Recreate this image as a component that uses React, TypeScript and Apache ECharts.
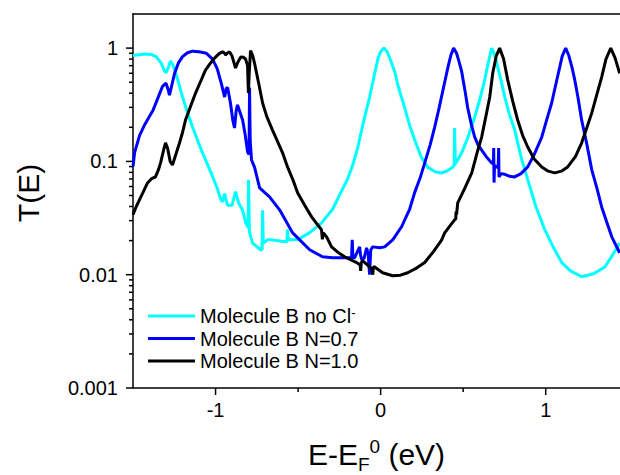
import React, { useEffect, useRef } from 'react';
import * as echarts from 'echarts';

// ---- data (x = E - EF0 in eV, T(E)) ----
const cyanData: number[][] = [
  [-1.5, 0.86], [-1.48, 0.87], [-1.45, 0.88], [-1.42, 0.885], [-1.39, 0.88], [-1.36, 0.84],
  [-1.33, 0.74], [-1.31, 0.63], [-1.3, 0.606], [-1.285, 0.68], [-1.273, 0.77], [-1.26, 0.72],
  [-1.24, 0.6], [-1.22, 0.47], [-1.2, 0.37], [-1.17, 0.27], [-1.139, 0.2], [-1.11, 0.155],
  [-1.079, 0.119], [-1.05, 0.095], [-1.018, 0.0735], [-0.99, 0.058], [-0.968, 0.046],
  [-0.958, 0.044], [-0.945, 0.052], [-0.935, 0.045], [-0.927, 0.041], [-0.9, 0.041],
  [-0.879, 0.054], [-0.86, 0.043], [-0.836, 0.037], [-0.818, 0.029], [-0.803, 0.026],
  [-0.8, 0.069], [-0.795, 0.024], [-0.776, 0.019], [-0.727, 0.0166], [-0.718, 0.0166],
  [-0.715, 0.037], [-0.711, 0.019], [-0.68, 0.0205], [-0.6, 0.0197], [-0.568, 0.0195],
  [-0.564, 0.025], [-0.56, 0.0203], [-0.5, 0.0205], [-0.43, 0.0235], [-0.358, 0.0287],
  [-0.29, 0.038], [-0.236, 0.055], [-0.2, 0.07], [-0.17, 0.092], [-0.14, 0.13],
  [-0.115, 0.189], [-0.09, 0.27], [-0.067, 0.37], [-0.05, 0.48], [-0.036, 0.6], [-0.015, 0.82],
  [0.0, 0.93], [0.02, 1.0], [0.04, 0.93], [0.06, 0.78], [0.085, 0.62], [0.11, 0.44],
  [0.145, 0.3], [0.175, 0.21], [0.206, 0.155], [0.245, 0.11], [0.285, 0.089], [0.33, 0.081],
  [0.37, 0.079], [0.4, 0.082], [0.436, 0.089], [0.446, 0.092], [0.448, 0.197], [0.452, 0.095],
  [0.491, 0.119], [0.53, 0.165], [0.57, 0.247], [0.6, 0.35], [0.63, 0.52], [0.65, 0.72],
  [0.662, 0.86], [0.673, 1.0], [0.69, 0.88], [0.705, 0.72], [0.725, 0.55], [0.752, 0.37],
  [0.78, 0.26], [0.812, 0.19], [0.85, 0.11], [0.891, 0.069], [0.94, 0.04], [0.994, 0.025],
  [1.05, 0.017], [1.097, 0.0128], [1.15, 0.0108], [1.218, 0.0096], [1.29, 0.0102],
  [1.358, 0.0117], [1.4, 0.0145], [1.448, 0.019],
];

const blueData: number[][] = [
  [-1.5, 0.09], [-1.49, 0.12], [-1.46, 0.17], [-1.43, 0.21], [-1.4, 0.25], [-1.38, 0.28],
  [-1.35, 0.36], [-1.321, 0.46], [-1.3, 0.49], [-1.285, 0.42], [-1.279, 0.385], [-1.265, 0.47],
  [-1.248, 0.6], [-1.225, 0.74], [-1.2, 0.84], [-1.17, 0.91], [-1.139, 0.94], [-1.1, 0.93],
  [-1.055, 0.9], [-1.018, 0.8], [-0.99, 0.66], [-0.964, 0.48], [-0.945, 0.37], [-0.935, 0.44],
  [-0.927, 0.45], [-0.91, 0.33], [-0.895, 0.23], [-0.885, 0.197], [-0.875, 0.28], [-0.867, 0.315],
  [-0.855, 0.28], [-0.836, 0.232], [-0.82, 0.17], [-0.806, 0.121], [-0.797, 0.115], [-0.794, 0.45],
  [-0.79, 0.15], [-0.782, 0.103], [-0.764, 0.089], [-0.733, 0.0584], [-0.673, 0.0487],
  [-0.612, 0.0374], [-0.533, 0.0234], [-0.43, 0.0166], [-0.352, 0.0144], [-0.291, 0.0141],
  [-0.176, 0.0141], [-0.172, 0.0203], [-0.168, 0.0141], [-0.158, 0.0141], [-0.127, 0.0176],
  [-0.122, 0.015], [-0.115, 0.0136], [-0.1, 0.014], [-0.085, 0.0173], [-0.075, 0.015],
  [-0.067, 0.01], [-0.06, 0.0165], [-0.048, 0.0176], [-0.006, 0.0173], [0.024, 0.0176],
  [0.073, 0.0203], [0.127, 0.0265], [0.176, 0.038], [0.206, 0.053], [0.24, 0.072], [0.267, 0.097],
  [0.3, 0.14], [0.327, 0.2], [0.355, 0.3], [0.388, 0.5], [0.41, 0.7], [0.425, 0.86], [0.442, 1.0],
  [0.46, 0.9], [0.475, 0.76], [0.491, 0.62], [0.51, 0.43], [0.527, 0.3], [0.55, 0.21],
  [0.57, 0.164], [0.59, 0.14], [0.612, 0.126], [0.64, 0.11], [0.673, 0.097], [0.683, 0.095],
  [0.685, 0.131], [0.687, 0.065], [0.69, 0.092], [0.7, 0.09], [0.712, 0.088], [0.715, 0.131],
  [0.717, 0.073], [0.73, 0.078], [0.752, 0.077], [0.78, 0.074], [0.812, 0.073], [0.85, 0.078],
  [0.891, 0.0894], [0.93, 0.115], [0.976, 0.164], [1.005, 0.23], [1.036, 0.328], [1.06, 0.47],
  [1.085, 0.68], [1.1, 0.85], [1.121, 1.0], [1.14, 0.86], [1.16, 0.67], [1.176, 0.522],
  [1.195, 0.37], [1.218, 0.23], [1.25, 0.14], [1.279, 0.0842], [1.31, 0.058], [1.339, 0.0396],
  [1.37, 0.029], [1.4, 0.0216], [1.448, 0.0156],
];

const blackData: number[][] = [
  [-1.5, 0.0338], [-1.48, 0.04], [-1.461, 0.0458], [-1.44, 0.053], [-1.412, 0.0646], [-1.39, 0.07],
  [-1.364, 0.073], [-1.345, 0.085], [-1.333, 0.097], [-1.315, 0.125], [-1.303, 0.146],
  [-1.29, 0.13], [-1.275, 0.1], [-1.261, 0.093], [-1.245, 0.11], [-1.218, 0.146], [-1.2, 0.18],
  [-1.182, 0.232], [-1.15, 0.31], [-1.121, 0.401], [-1.09, 0.51], [-1.061, 0.64], [-1.03, 0.74],
  [-1.006, 0.816], [-0.98, 0.89], [-0.958, 0.93], [-0.945, 0.9], [-0.939, 0.868], [-0.93, 0.9],
  [-0.915, 0.925], [-0.9, 0.85], [-0.879, 0.667], [-0.865, 0.75], [-0.848, 0.833], [-0.83, 0.83],
  [-0.818, 0.8], [-0.806, 0.7], [-0.801, 0.401], [-0.796, 0.6], [-0.788, 0.95], [-0.775, 0.86],
  [-0.764, 0.738], [-0.74, 0.5], [-0.715, 0.328], [-0.69, 0.25], [-0.655, 0.189], [-0.62, 0.145],
  [-0.594, 0.119], [-0.564, 0.0894], [-0.53, 0.068], [-0.503, 0.0528], [-0.46, 0.041],
  [-0.418, 0.0324], [-0.385, 0.028], [-0.358, 0.0249], [-0.353, 0.0205], [-0.348, 0.0235],
  [-0.327, 0.0215], [-0.297, 0.0176], [-0.26, 0.0158], [-0.218, 0.0144], [-0.18, 0.0135],
  [-0.145, 0.0128], [-0.124, 0.0122], [-0.121, 0.0108], [-0.117, 0.0128], [-0.109, 0.0133],
  [-0.067, 0.0117], [-0.052, 0.0112], [-0.048, 0.01], [-0.043, 0.0118], [-0.036, 0.0117],
  [0.012, 0.0104], [0.073, 0.0098], [0.12, 0.0099], [0.164, 0.0104], [0.22, 0.0115],
  [0.267, 0.0128], [0.32, 0.016], [0.37, 0.0203], [0.388, 0.0234], [0.42, 0.027], [0.448, 0.0305],
  [0.455, 0.031], [0.457, 0.036], [0.46, 0.034], [0.467, 0.0431], [0.51, 0.058], [0.552, 0.0792],
  [0.585, 0.12], [0.612, 0.164], [0.64, 0.26], [0.661, 0.37], [0.679, 0.6], [0.7, 0.85],
  [0.721, 1.0], [0.745, 0.8], [0.77, 0.522], [0.8, 0.34], [0.83, 0.232], [0.86, 0.17],
  [0.891, 0.134], [0.93, 0.105], [0.976, 0.0894], [1.015, 0.082], [1.055, 0.0792], [1.095, 0.082],
  [1.133, 0.0894], [1.18, 0.11], [1.218, 0.146], [1.25, 0.2], [1.279, 0.268], [1.31, 0.39],
  [1.339, 0.555], [1.365, 0.8], [1.394, 1.0], [1.42, 0.82], [1.448, 0.6],
];

const seriesNames = ['Molecule B no Cl⁻', 'Molecule B N=0.7', 'Molecule B N=1.0'];
const seriesColors = ['#00ffff', '#0000ff', '#000000'];
const xTickValues = [-1, 0, 1];
const xTickLabels = ['-1', '0', '1'];
const xMinorTickValues = [-0.5, 0.5];
const yTickValues = [0.001, 0.01, 0.1, 1];
const yTickLabels = ['0.001', '0.01', '0.1', '1'];
const yMinorMultipliers = [2, 3, 4, 5, 6, 7, 8, 9];

const FONT = '"Liberation Sans", Arial, Helvetica, sans-serif';

export default function App() {
  const ref = useRef<HTMLDivElement>(null);

  useEffect(() => {
    if (!ref.current) return;
    const chart = echarts.init(ref.current, undefined, { renderer: 'svg' });
    const axisLineStyle = { color: '#000', width: 1.5 };
    const option: any = {
      animation: false,
      textStyle: { fontFamily: FONT },
      grid: { left: 133, top: 14, right: 0, bottom: 87, containLabel: false, outerBoundsMode: 'none' },
      legend: {
        orient: 'vertical',
        left: 148,
        top: 306,
        padding: 0,
        icon: 'rect',
        itemWidth: 47,
        itemHeight: 3,
        itemGap: 2.5,
        data: seriesNames,
        textStyle: {
          fontSize: 20,
          color: '#000',
          fontFamily: FONT,
          lineHeight: 20,
          rich: {
            sup: { fontSize: 13, verticalAlign: 'top', lineHeight: 20, fontFamily: FONT, color: '#000' },
          },
        },
        formatter: (name: string) =>
          name === seriesNames[0] ? 'Molecule B no Cl{sup|-}' : name,
      },
      xAxis: [
        {
          type: 'value',
          min: -1.5,
          max: 1.45,
          interval: 0.5,
          name: 'E-E{sub|F}{sup|0} (eV)',
          nameLocation: 'middle',
          nameGap: 46,
          nameTextStyle: {
            fontSize: 30,
            color: '#000',
            fontFamily: FONT,
            lineHeight: 40,
            rich: {
              sub: { fontSize: 19, verticalAlign: 'bottom', lineHeight: 19, fontFamily: FONT, color: '#000' },
              sup: { fontSize: 19, verticalAlign: 'top', lineHeight: 19, padding: [3, 0, 0, 0], fontFamily: FONT, color: '#000' },
            },
          },
          axisLine: { show: true, onZero: false, lineStyle: axisLineStyle },
          axisTick: { show: false },
          splitLine: { show: false },
          axisLabel: {
            margin: 12,
            fontSize: 20,
            color: '#000',
            fontFamily: FONT,
            showMinLabel: false,
            showMaxLabel: false,
            formatter: (v: number) => {
              const i = xTickValues.findIndex((t) => Math.abs(t - v) < 1e-6);
              return i >= 0 ? xTickLabels[i] : '';
            },
          },
        },
        {
          type: 'value',
          position: 'top',
          min: -1.5,
          max: 1.45,
          axisLine: { show: true, onZero: false, lineStyle: axisLineStyle },
          axisTick: { show: false },
          axisLabel: { show: false },
          splitLine: { show: false },
        },
      ],
      yAxis: {
        type: 'log',
        logBase: 10,
        min: 0.001,
        max: 2,
        name: 'T(E)',
        nameLocation: 'middle',
        nameGap: 90,
        nameTextStyle: { fontSize: 30, color: '#000', fontFamily: FONT, padding: [0, 0, 0, 16] },
        axisLine: { show: true, onZero: false, lineStyle: axisLineStyle },
        axisTick: { show: false },
        splitLine: { show: false },
        axisLabel: {
          margin: 15,
          fontSize: 20,
          color: '#000',
          fontFamily: FONT,
          formatter: (v: number) => {
            const i = yTickValues.findIndex((t) => Math.abs(Math.log10(v) - Math.log10(t)) < 1e-6);
            return i >= 0 ? yTickLabels[i] : '';
          },
        },
      },
      series: [cyanData, blueData, blackData].map((d, i) => ({
        name: seriesNames[i],
        type: 'line',
        data: d,
        showSymbol: false,
        symbol: 'none',
        lineStyle: { width: 3, color: seriesColors[i] },
        itemStyle: { color: seriesColors[i] },
        z: 2 + i,
      })),
    };
    chart.setOption(option);

    // tick marks (drawn outward) placed through the axes' own scales
    const els: any[] = [];
    const yBottom = chart.convertToPixel({ yAxisIndex: 0 }, 0.001) as number;
    const xLeft = chart.convertToPixel({ xAxisIndex: 0 }, -1.5) as number;
    const tickStyle = { stroke: '#000', lineWidth: 1.5 };
    xTickValues.forEach((v) => {
      const px = chart.convertToPixel({ xAxisIndex: 0 }, v) as number;
      els.push({ type: 'line', silent: true, shape: { x1: px, y1: yBottom, x2: px, y2: yBottom + 7 }, style: tickStyle });
    });
    xMinorTickValues.forEach((v) => {
      const px = chart.convertToPixel({ xAxisIndex: 0 }, v) as number;
      els.push({ type: 'line', silent: true, shape: { x1: px, y1: yBottom, x2: px, y2: yBottom + 4 }, style: tickStyle });
    });
    yTickValues.forEach((v, k) => {
      const py = chart.convertToPixel({ yAxisIndex: 0 }, v) as number;
      els.push({ type: 'line', silent: true, shape: { x1: xLeft - 7, y1: py, x2: xLeft, y2: py }, style: tickStyle });
      if (k < yTickValues.length - 1) {
        yMinorMultipliers.forEach((m) => {
          const pm = chart.convertToPixel({ yAxisIndex: 0 }, v * m) as number;
          els.push({ type: 'line', silent: true, shape: { x1: xLeft - 4, y1: pm, x2: xLeft, y2: pm }, style: tickStyle });
        });
      }
    });
    chart.setOption({ graphic: els });

    return () => chart.dispose();
  }, []);

  return (
    <div
      ref={ref}
      style={{ position: 'fixed', left: 0, top: 0, width: 620, height: 475, background: '#fff' }}
    />
  );
}
